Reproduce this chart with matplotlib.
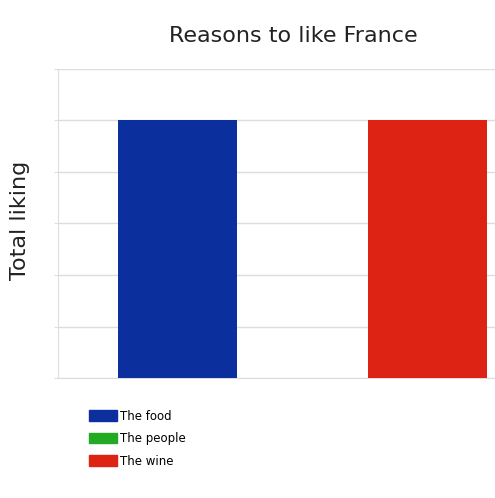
import matplotlib.pyplot as plt
from matplotlib.patches import Patch

# data
reasons = ['The food', 'The people', 'The wine']
liking = [5, 0, 5]
colors = ['#0b2f9c', '#22aa22', '#dd2314']

fig = plt.figure(figsize=(4.95, 4.98), dpi=100)
ax = fig.add_axes([58 / 495, 120 / 498, 437 / 495, 309 / 498])

ax.bar(range(len(reasons)), liking, width=0.952, color=colors, zorder=3)

ax.set_ylim(0, 6)
ax.set_xlim(-0.956, 2.54)
ax.set_yticks(range(0, 7))
ax.set_yticklabels([])
ax.set_xticks([])
ax.tick_params(axis='y', length=3, color='#dddddd')
ax.grid(axis='y', color='#dddddd', linewidth=1, zorder=0)
for side in ['top', 'right']:
    ax.spines[side].set_visible(False)
for side in ['left', 'bottom']:
    ax.spines[side].set_color('#dddddd')

fig.text(293 / 495, 1 - 36 / 498, 'Reasons to like France', ha='center', va='center',
         fontsize=16, color='#222222')
fig.text(20 / 495, 1 - 220 / 498, 'Total liking', ha='center', va='center',
         rotation=90, fontsize=16, color='#222222')

handles = [Patch(facecolor=c, edgecolor=c) for c in colors]
fig.legend(handles, reasons, loc='upper left', bbox_to_anchor=(78 / 495, 1 - 399 / 498),
           frameon=False, fontsize=8.5, handlelength=2.4, handleheight=1.0,
           labelspacing=0.8, handletextpad=0.3)

fig.savefig('out.png', dpi=100)
